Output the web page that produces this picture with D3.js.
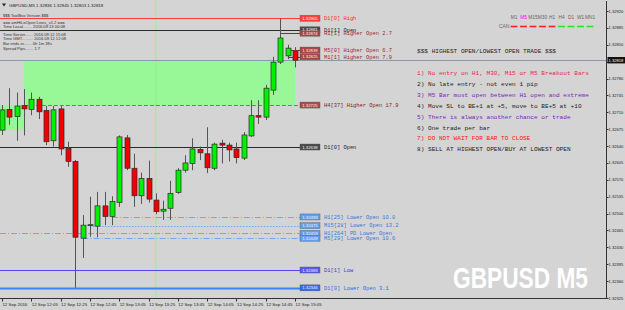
<!DOCTYPE html>
<html>
<head>
<meta charset="utf-8">
<script src="https://cdn.jsdelivr.net/npm/d3@7"></script>
<style>
  body { margin: 0; background: #d4d4d4; }
  svg { display: block; }
  text { font-family: "Liberation Sans", Arial, sans-serif; }
  .mono { font-family: "Liberation Mono", "Courier New", monospace; }
</style>
</head>
<body>
<svg id="chart" width="625" height="310"></svg>
<script>
// M5 bars, 11:45 .. 15:05
var barTimes = ["11:45","11:50","11:55","12:00","12:05","12:10","12:15","12:20","12:25","12:30",
  "12:35","12:40","12:45","12:50","12:55","13:00","13:05","13:10","13:15","13:20",
  "13:25","13:30","13:35","13:40","13:45","13:50","13:55","14:00","14:05","14:10",
  "14:15","14:20","14:25","14:30","14:35","14:40","14:45","14:50","14:55","15:00","15:05"];
var opens  = [1.32673,1.32716,1.32701,1.32724,1.32716,1.32737,1.32714,1.32651,1.32717,1.32635,
  1.32608,1.32449,1.32476,1.32474,1.32516,1.32494,1.32523,1.32657,1.32594,1.32537,
  1.32573,1.32528,1.32505,1.32511,1.32544,1.32590,1.32604,1.32633,1.32624,1.32594,
  1.32646,1.32642,1.32634,1.32615,1.32661,1.32703,1.32700,1.32756,1.32814,1.32827,1.32836];
var highs  = [1.32725,1.32760,1.32751,1.32758,1.32751,1.32742,1.32723,1.32723,1.32723,1.32649,
  1.32611,1.32497,1.32535,1.32545,1.32545,1.32536,1.32662,1.32663,1.32624,1.32585,
  1.32610,1.32542,1.32527,1.32568,1.32594,1.32621,1.32656,1.32639,1.32679,1.32647,
  1.32653,1.32647,1.32647,1.32669,1.32735,1.32735,1.32767,1.32825,1.32905,1.32850,1.32845];
var lows   = [1.32663,1.32684,1.32651,1.32662,1.32704,1.32696,1.32642,1.32639,1.32621,1.32597,
  1.32346,1.32408,1.32452,1.32451,1.32476,1.32476,1.32514,1.32590,1.32514,1.32520,
  1.32523,1.32499,1.32487,1.32487,1.32541,1.32585,1.32590,1.32611,1.32584,1.32590,
  1.32604,1.32608,1.32604,1.32611,1.32659,1.32686,1.32694,1.32746,1.32810,1.32820,1.32803];
var closes = [1.32715,1.32700,1.32723,1.32717,1.32737,1.32711,1.32649,1.32715,1.32634,1.32608,
  1.32451,1.32476,1.32477,1.32516,1.32494,1.32525,1.32659,1.32594,1.32537,1.32573,
  1.32530,1.32504,1.32509,1.32542,1.32590,1.32605,1.32634,1.32626,1.32595,1.32644,
  1.32642,1.32632,1.32616,1.32663,1.32703,1.32700,1.32760,1.32814,1.32864,1.32843,1.32818];

var timeLabels = ["12 Sep 2016","12 Sep 12:05","12 Sep 12:25","12 Sep 12:45","12 Sep 13:05","12 Sep 13:25",
  "12 Sep 13:45","12 Sep 14:05","12 Sep 14:25","12 Sep 14:45","12 Sep 15:05"];
var timeLabelBars = [0,4,8,12,16,20,24,28,32,36,40];
var priceTicks = [1.32920,1.32885,1.32850,1.32815,1.32780,1.32745,1.32710,1.32675,1.32640,
  1.32605,1.32570,1.32535,1.32500,1.32465,1.32430,1.32395,1.32360,1.32325];
var lastPrice = 1.32818;

// indicator levels
var levelNames = ["D1[0] High","D1[1] Open","H1[1] Higher Open 2.7","M5[0] Higher Open 6.7","M1[1] Higher Open 7.9",
  "H4[37] Higher Open 17.9","D1[0] Open","H1[25] Lower Open 10.0","M15[28] Lower Open 13.2",
  "H1[264] PD Lower Open","M5[29] Lower Open 10.6","D1[1] Low","D1[0] Lower Open 3.1"];
var levelPrices = [1.32905,1.32881,1.32874,1.32839,1.32825,1.32725,1.32638,1.32493,1.32475,1.32459,1.32449,1.32383,1.32346];
var levelStartBar = [0,0,38,39,39,3,0,15,12,0,11,0,0];
var levelKind = ["high","open","higher","higher","higher","h4","open","lower","lowerDot","lower","lower","low","dlow"];

// highlighted zones
var zoneStart = [-1, 3];
var zoneEnd = [3, 40];
var zoneTop = [1.32725, 1.32818];
var zoneBottom = [1.32673, 1.32725];
var markerBar = 21;

var infoLines = ["$$$ ToolBox Version $$$","=== amHiLoOpen Lines_v1.2 ===","Time Local........ 2016.09.13 00:08",
  "Time Server....... 2016.09.12 15:08","Time GMT.......... 2016.09.12 12:08","Bar ends in....... 0h 1m 38s","Spread Pips....... 1.7"];
var ruleLines = ["1) No entry on H1, M30, M15 or M5 Breakout Bars","2) No late entry - not even 1 pip",
  "3) M5 Bar must open between H1 open and extreme","4) Move SL to BE+1 at +5, move to BE+5 at +10",
  "5) There is always another chance or trade","6) One trade per bar","7) DO NOT WAIT FOR BAR TO CLOSE",
  "8) SELL AT HIGHEST OPEN/BUY AT LOWEST OPEN"];
var ruleType = ["warn","plain","note","plain","note","plain","alert","plain"];
var timeframes = ["M1","M5","M15","M30","H1","H4","D1","W1","MN1"];
var tfState = [0,0,0,0,0,1,1,1,1];

var svg = d3.select("#chart");
var x = d3.scaleLinear().domain([0, 40]).range([1.9, 295.1]);
var y = d3.scaleLinear().domain([1.32325, 1.32920]).range([298, 11]);
var plotRight = 606, plotBottom = 298.5, labelX = 300;

var kindStyle = {
  high:     {line: "#ff3b3b", box: "#ff4040", text: "#ff2a2a", dash: null, w: 1},
  open:     {line: "#2b2b2b", box: "#4a4a4a", text: "#222", dash: null, w: 1},
  higher:   {line: "#8a2a2a", box: "#a84545", text: "#a02828", dash: null, w: 1},
  h4:       {line: "#b06060", box: "#b04848", text: "#8a2020", dash: "4,2", w: 1},
  lower:    {line: "#6fa8ec", box: "#5fa0f0", text: "#3a78d8", dash: "6,2,1,2", w: 1},
  lowerDot: {line: "#6fa8ec", box: "#5fa0f0", text: "#3a78d8", dash: "1.5,1.5", w: 1},
  low:      {line: "#4a4af0", box: "#5858f0", text: "#3a3ad0", dash: null, w: 1},
  dlow:     {line: "#3d82f5", box: "#2f6df5", text: "#2f6df0", dash: null, w: 2}
};

// zones
var zones = d3.range(zoneStart.length);
svg.selectAll("rect.zone").data(zones).enter().append("rect")
  .attr("x", function(i) { return Math.max(0, x(zoneStart[i])); })
  .attr("width", function(i) { return x(zoneEnd[i]) - Math.max(0, x(zoneStart[i])); })
  .attr("y", function(i) { return y(zoneTop[i]); })
  .attr("height", function(i) { return y(zoneBottom[i]) - y(zoneTop[i]); })
  .attr("fill", "#98f898");

// vertical marker
svg.append("line").attr("x1", x(markerBar)).attr("x2", x(markerBar))
  .attr("y1", 0).attr("y2", plotBottom).attr("stroke", "#8ef08e").attr("stroke-width", 1);

// level lines
var levels = d3.range(levelNames.length);
svg.selectAll("line.level").data(levels).enter().append("line")
  .attr("x1", function(i) { return levelStartBar[i] === 0 ? 0 : x(levelStartBar[i]); })
  .attr("x2", labelX)
  .attr("y1", function(i) { return Math.round(y(levelPrices[i])) + 0.5; })
  .attr("y2", function(i) { return Math.round(y(levelPrices[i])) + 0.5; })
  .attr("stroke", function(i) { return kindStyle[levelKind[i]].line; })
  .attr("stroke-width", function(i) { return kindStyle[levelKind[i]].w; })
  .attr("stroke-dasharray", function(i) { return kindStyle[levelKind[i]].dash; });

// bid line
svg.append("line").attr("x1", 0).attr("x2", plotRight)
  .attr("y1", Math.round(y(lastPrice)) + 0.5).attr("y2", Math.round(y(lastPrice)) + 0.5)
  .attr("stroke", "#8a98a8").attr("stroke-width", 1);

// candles
var bars = d3.range(opens.length);
var g = svg.append("g");
g.selectAll("line.wick").data(bars).enter().append("line")
  .attr("x1", function(i) { return Math.round(x(i)) + 0.5; })
  .attr("x2", function(i) { return Math.round(x(i)) + 0.5; })
  .attr("y1", function(i) { return y(highs[i]); })
  .attr("y2", function(i) { return y(lows[i]); })
  .attr("stroke", "#555").attr("stroke-width", 1);
g.selectAll("rect.body").data(bars).enter().append("rect")
  .attr("x", function(i) { return Math.round(x(i)) - 2; })
  .attr("width", 5)
  .attr("y", function(i) { return y(Math.max(opens[i], closes[i])); })
  .attr("height", function(i) { return Math.max(1, Math.abs(y(opens[i]) - y(closes[i]))); })
  .attr("fill", function(i) { return closes[i] >= opens[i] ? "#00f000" : "#f00000"; })
  .attr("stroke", "#2a2a2a").attr("stroke-width", 0.7);

// level price boxes and names
svg.selectAll("rect.lbox").data(levels).enter().append("rect")
  .attr("x", labelX).attr("width", 20)
  .attr("y", function(i) { return y(levelPrices[i]) - 3; })
  .attr("height", 6)
  .attr("fill", function(i) { return kindStyle[levelKind[i]].box; })
  .attr("stroke", "#555").attr("stroke-width", 0.4);
svg.selectAll("text.lval").data(levels).enter().append("text")
  .attr("x", labelX + 10).attr("y", function(i) { return y(levelPrices[i]) + 1.6; })
  .attr("text-anchor", "middle").attr("font-size", 4.3).attr("fill", "#f4f4f4")
  .text(function(i) { return levelPrices[i].toFixed(5); });
svg.selectAll("text.lname").data(levels).enter().append("text")
  .attr("class", "mono")
  .attr("x", 324).attr("y", function(i) { return y(levelPrices[i]) + 1.8; })
  .attr("font-size", 5.4)
  .attr("fill", function(i) { return kindStyle[levelKind[i]].text; })
  .text(function(i) { return levelNames[i]; });

// frame
svg.append("line").attr("x1", plotRight + 0.5).attr("x2", plotRight + 0.5).attr("y1", 1).attr("y2", plotBottom)
  .attr("stroke", "#333").attr("stroke-width", 1);
svg.append("line").attr("x1", 0).attr("x2", plotRight).attr("y1", plotBottom).attr("y2", plotBottom)
  .attr("stroke", "#333").attr("stroke-width", 1);

// price axis
var py = svg.append("g");
py.selectAll("line").data(priceTicks).enter().append("line")
  .attr("x1", plotRight).attr("x2", plotRight + 2.5)
  .attr("y1", function(d) { return Math.round(y(d)) + 0.5; })
  .attr("y2", function(d) { return Math.round(y(d)) + 0.5; })
  .attr("stroke", "#333");
py.selectAll("text").data(priceTicks).enter().append("text")
  .attr("x", 608.6).attr("y", function(d) { return y(d) + 1.5; })
  .attr("font-size", 4.1).attr("fill", "#222")
  .text(function(d) { return d.toFixed(5); });
svg.append("rect").attr("x", 607.5).attr("y", y(lastPrice) - 3.2).attr("width", 17.5).attr("height", 6.4).attr("fill", "#111");
svg.append("text").attr("x", 608.6).attr("y", y(lastPrice) + 1.5).attr("font-size", 4.1).attr("fill", "#fff")
  .text(lastPrice.toFixed(5));

// time axis
var tx = svg.append("g");
tx.selectAll("line").data(timeLabelBars).enter().append("line")
  .attr("x1", function(b) { return Math.round(x(b)) + 0.5; })
  .attr("x2", function(b) { return Math.round(x(b)) + 0.5; })
  .attr("y1", plotBottom).attr("y2", plotBottom + 3).attr("stroke", "#333");
tx.selectAll("text").data(timeLabelBars).enter().append("text")
  .attr("x", function(b) { return x(b) + 0.5; }).attr("y", 305.5)
  .attr("font-size", 4.4).attr("fill", "#222")
  .text(function(b, k) { return timeLabels[k]; });

// title and info block
svg.append("path").attr("d", "M2,3.5 L6,3.5 L4,6.5 Z").attr("fill", "#222");
svg.append("text").attr("x", 9).attr("y", 6.5).attr("font-size", 4.4).attr("fill", "#222")
  .text("GBPUSD,M5 1.32836 1.32845 1.32803 1.32818");
var infoY = [16.8, 24.2, 28.2, 35.5, 39.8, 44.8, 50.2];
svg.selectAll("text.info").data(infoLines).enter().append("text")
  .attr("x", 3).attr("y", function(d, i) { return infoY[i]; })
  .attr("font-size", 4.1).attr("fill", "#333")
  .text(function(d) { return d; });

// rules panel
var ruleColor = {warn: "#e8264e", plain: "#222", note: "#7a22b8", alert: "#ff1010"};
svg.append("text").attr("class", "mono").attr("x", 417).attr("y", 52.6)
  .attr("font-size", 6.1).attr("fill", "#222").text("$$$ HIGHEST OPEN/LOWEST OPEN TRADE $$$");
svg.selectAll("text.rule").data(ruleLines).enter().append("text")
  .attr("class", "mono").attr("x", 417)
  .attr("y", function(d, i) { return 75.3 + i * 10.85; })
  .attr("font-size", 6.1)
  .attr("fill", function(d, i) { return ruleColor[ruleType[i]]; })
  .text(function(d) { return d; });

// timeframe state
var tf = d3.scalePoint().domain(timeframes).range([514, 590]);
svg.selectAll("text.tf").data(timeframes).enter().append("text")
  .attr("x", function(d) { return tf(d); }).attr("y", 19)
  .attr("text-anchor", "middle").attr("font-size", 4.8)
  .attr("fill", function(d) { return d === "M5" ? "#ff00ff" : "#666"; })
  .text(function(d) { return d; });
svg.append("text").attr("x", 499).attr("y", 28.2).attr("font-size", 4.8).attr("fill", "#666").text("CAN");
svg.selectAll("line.tf").data(timeframes).enter().append("line")
  .attr("x1", function(d) { return tf(d) - 3.4; }).attr("x2", function(d) { return tf(d) + 3.4; })
  .attr("y1", 26.5).attr("y2", 26.5).attr("stroke-width", 1.6)
  .attr("stroke", function(d, i) { return tfState[i] ? "#22e822" : "#ff2020"; });

// watermark, squeezed to the reference width
var wm = svg.append("text")
  .attr("font-family", "'Liberation Sans Narrow', 'Arial Narrow', sans-serif")
  .attr("font-weight", "bold").attr("font-size", 30)
  .attr("fill", "#ffffff").text("GBPUSD M5");
var wmLen = wm.node().getComputedTextLength();
wm.attr("transform", "translate(453,287.5) scale(" + (135 / wmLen) + ",1)");
</script>
</body>
</html>
